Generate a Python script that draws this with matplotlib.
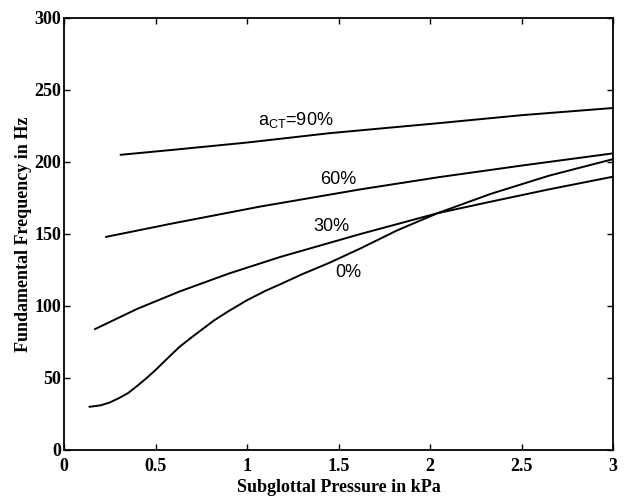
import numpy as np
import matplotlib
matplotlib.use("Agg")
import matplotlib.pyplot as plt

# F0 versus subglottal pressure for several cricothyroid activation levels
p_90 = [0.31, 0.6, 1.0, 1.45, 2.05, 2.5, 3.0]
f0_90 = [205, 208.5, 213.5, 220, 227, 232.5, 237.5]

p_60 = [0.23, 0.6, 1.07, 1.62, 2.05, 2.5, 3.0]
f0_60 = [148, 157.5, 169, 181, 189.5, 197.5, 206]

p_30 = [0.17, 0.4, 0.63, 0.9, 1.18, 1.62, 2.04, 2.33, 2.65, 3.0]
f0_30 = [84, 98, 110, 122.5, 134, 150, 164.4, 172.4, 181, 189.8]

p_0 = [0.14, 0.2, 0.25, 0.3, 0.35, 0.4, 0.45, 0.5, 0.54, 0.63, 0.7, 0.82,
       0.9, 1.0, 1.1, 1.18, 1.3, 1.45, 1.62, 1.82, 2.04, 2.33, 2.65, 3.0]
f0_0 = [30, 31, 33, 36, 39.5, 44.5, 49.8, 55.5, 60.5, 71.5, 78.5, 90,
        96.5, 104, 110.5, 115, 122, 130, 140, 152.5, 164.4, 177.8, 190.5, 202]

etiquetas = ["a$_{\\rm CT}$=90%", "60%", "30%", "0%"]
pos_etiquetas = [(1.265, 229), (1.497, 187.5), (1.459, 155), (1.552, 123)]

plt.rcParams['mathtext.fontset'] = 'custom'
plt.rcParams['mathtext.rm'] = 'Liberation Sans'

fig = plt.figure(figsize=(6.25, 4.97), dpi=100)
ax = fig.add_axes([0.1024, 0.0946, 0.8786, 0.8692])

for x, y in [(p_90, f0_90), (p_60, f0_60), (p_30, f0_30), (p_0, f0_0)]:
    ax.plot(x, y, color='black', linewidth=1.4)

for txt, (x, y) in zip(etiquetas, pos_etiquetas):
    ax.text(x, y, txt, ha='center', va='center', fontsize=13,
            family='Liberation Sans')

ax.set_xlim(0, 3)
ax.set_ylim(0, 300)
ax.set_xticks(np.arange(0, 3.01, 0.5))
ax.set_xticklabels(['0', '0.5', '1', '1.5', '2', '2.5', '3'])
ax.set_yticks(np.arange(0, 301, 50))

for s in ax.spines.values():
    s.set_linewidth(1.3)
ax.tick_params(direction='in', top=True, right=True, length=4, width=1,
               pad=2, labelsize=13)
ax.tick_params(axis='x', pad=6)
for lab in ax.get_xticklabels() + ax.get_yticklabels():
    lab.set_family('Liberation Serif')
    lab.set_fontweight('bold')

ax.set_xlabel('Subglottal Pressure in kPa', family='Liberation Serif',
              fontweight='bold', fontsize=13, labelpad=3)
ax.set_ylabel('Fundamental Frequency in Hz', family='Liberation Serif',
              fontweight='bold', fontsize=13, labelpad=2)

fig.savefig('out.png', dpi=100)
